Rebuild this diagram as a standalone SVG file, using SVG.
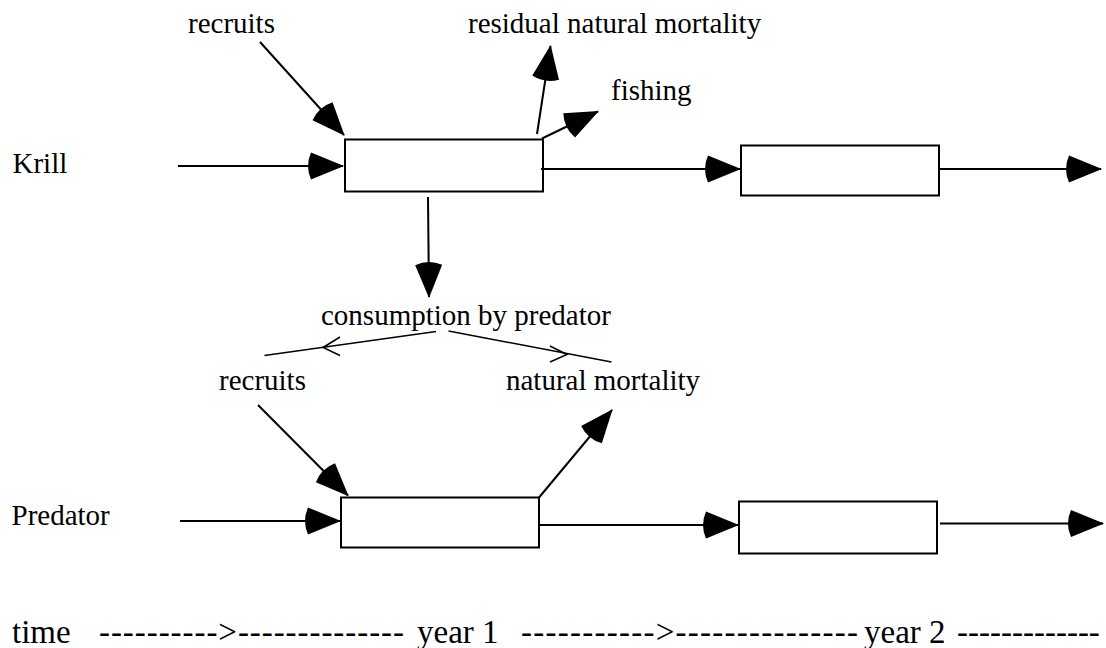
<svg xmlns="http://www.w3.org/2000/svg" width="1106" height="648" viewBox="0 0 1106 648">
<style>
  text { font-family: "Liberation Serif", "Times New Roman", "DejaVu Serif", serif; fill: #000; }
  .lbl { font-size: 29px; }
  .time { font-size: 33px; }
  .box { fill: #fff; stroke: #000; stroke-width: 2; }
  .ln { fill: none; stroke: #000; stroke-width: 2; }
  .thin { fill: none; stroke: #000; stroke-width: 1.5; }
</style>
<defs>
  <marker id="ah" markerUnits="userSpaceOnUse" orient="auto" refX="0" refY="0" markerWidth="44" markerHeight="30" viewBox="-40 -15 44 30" overflow="visible">
    <path d="M1,0 L-32,-13.5 Q-38,0 -32,13.5 Z" fill="#000"/>
  </marker>
</defs>
<rect width="1106" height="648" fill="#fff"/>

<g id="labels">
  <text class="lbl" x="12.5" y="173">Krill</text>
  <text class="lbl" x="11.5" y="525">Predator</text>
</g>

<g id="krill-box1"><rect class="box" x="345" y="139.5" width="198" height="52"/></g>
<g id="krill-box2"><rect class="box" x="741" y="145.5" width="198" height="50"/></g>
<g id="pred-box1"><rect class="box" x="341" y="497.5" width="198" height="50"/></g>
<g id="pred-box2"><rect class="box" x="739" y="501.5" width="198" height="52"/></g>

<g id="krill-recruits"><text class="lbl" x="188" y="33">recruits</text></g>
<g id="residual"><text class="lbl" x="468" y="33">residual natural mortality</text></g>
<g id="fishing"><text class="lbl" x="611" y="100">fishing</text></g>
<g id="consumption"><text class="lbl" x="321" y="325">consumption by predator</text></g>
<g id="pred-recruits"><text class="lbl" x="219" y="390">recruits</text></g>
<g id="natural"><text class="lbl" x="506" y="390">natural mortality</text></g>

<g id="connectors">
  <line class="ln" x1="178" y1="166" x2="343" y2="166" marker-end="url(#ah)"/>
  <line class="ln" x1="260" y1="42" x2="344" y2="135" marker-end="url(#ah)"/>
  <line class="ln" x1="537" y1="134" x2="550.5" y2="46" marker-end="url(#ah)"/>
  <line class="ln" x1="542" y1="138.5" x2="598" y2="111.5" marker-end="url(#ah)"/>
  <line class="ln" x1="541" y1="169" x2="740" y2="169" marker-end="url(#ah)"/>
  <line class="ln" x1="939" y1="169" x2="1101" y2="169" marker-end="url(#ah)"/>
  <line class="ln" x1="428" y1="197" x2="429" y2="297" marker-end="url(#ah)"/>

  <line class="thin" x1="436" y1="331.5" x2="264.5" y2="355.5"/>
  <polyline class="thin" points="340,337 323,347.5 340,355.5"/>
  <line class="thin" x1="448.5" y1="331" x2="611.5" y2="362"/>
  <polyline class="thin" points="550,346 567,354.5 550,362"/>

  <line class="ln" x1="180" y1="521" x2="340" y2="521" marker-end="url(#ah)"/>
  <line class="ln" x1="258" y1="405" x2="348" y2="495.5" marker-end="url(#ah)"/>
  <line class="ln" x1="539" y1="497.5" x2="612" y2="410" marker-end="url(#ah)"/>
  <line class="ln" x1="539" y1="525" x2="738" y2="525" marker-end="url(#ah)"/>
  <line class="ln" x1="940" y1="523.5" x2="1103" y2="523.5" marker-end="url(#ah)"/>
</g>

<g id="timeline">
  <text class="time" x="12" y="643">time</text>
  <text class="time" x="99" y="643" textLength="305" lengthAdjust="spacing">---------->--------------</text>
  <text class="time" x="417" y="643">year 1</text>
  <text class="time" x="521" y="643" textLength="337" lengthAdjust="spacing">----------->---------------</text>
  <text class="time" x="864" y="643">year 2</text>
  <text class="time" x="957" y="643">-------------</text>
</g>
</svg>
